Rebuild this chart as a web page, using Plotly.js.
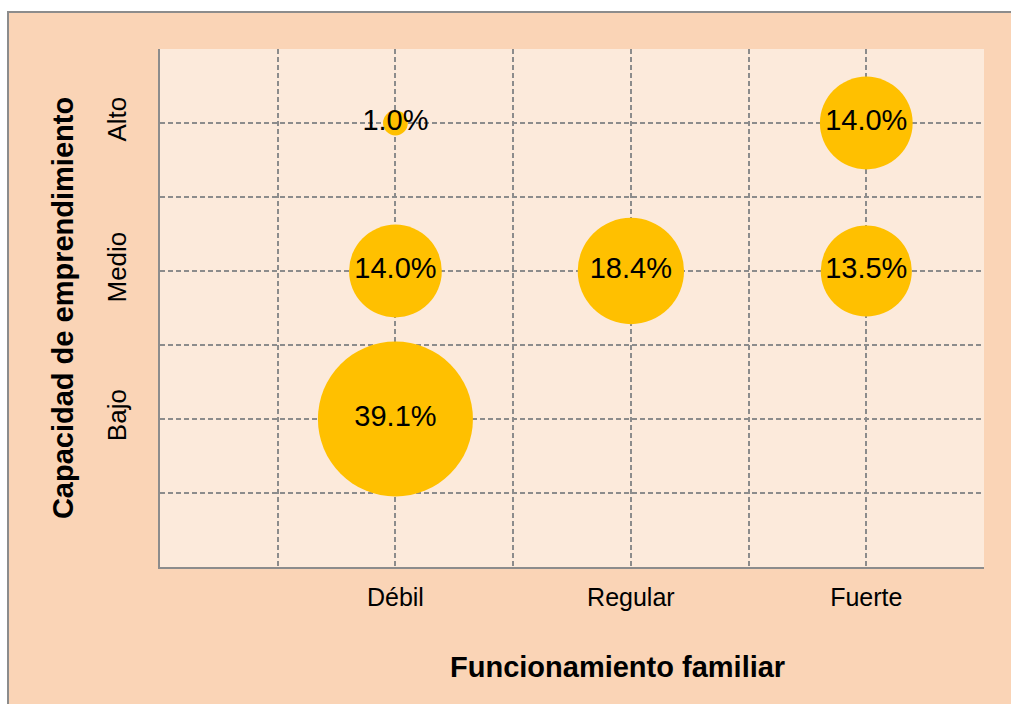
<!DOCTYPE html>
<html>
<head>
<meta charset="utf-8">
<script src="https://cdn.plot.ly/plotly-3.0.1.min.js"></script>
<style>
  html, body { margin: 0; padding: 0; background: #ffffff; width: 1011px; height: 704px; overflow: hidden; }
  #wrap { position: absolute; left: 7px; top: 11px; width: 1004px; height: 693px; box-sizing: border-box;
          border-left: 2px solid #8c8c8c; border-top: 2px solid #8c8c8c; background: #FAD4B6; }
  #chart { width: 1002px; height: 691px; }
</style>
</head>
<body>
<div id="wrap"><div id="chart"></div></div>
<script>
// Categories
const xCategories = ['Débil', 'Regular', 'Fuerte'];
const yCategories = ['Bajo', 'Medio', 'Alto'];

// Series (bubbles): x category, y category, percentage
const pointX = ['Débil', 'Fuerte', 'Débil', 'Regular', 'Fuerte', 'Débil'];
const pointY = ['Alto', 'Alto', 'Medio', 'Medio', 'Medio', 'Bajo'];
const pointValues = [1.0, 14.0, 14.0, 18.4, 13.5, 39.1];

const xTitle = 'Funcionamiento familiar';
const yTitle = 'Capacidad de emprendimiento';

const xPos = pointX.map(c => xCategories.indexOf(c) + 1);
const yPos = pointY.map(c => yCategories.indexOf(c) + 1);
const labels = pointValues.map(v => v.toFixed(1) + '%');

const gridColor = '#8c8c8c';
const gridDash = '5px,3px';
const font = 'Liberation Sans, Arial, sans-serif';

const trace = {
  type: 'scatter',
  mode: 'markers+text',
  x: xPos,
  y: yPos,
  text: labels,
  textposition: 'middle center',
  textfont: { family: font, size: 29, color: '#000000' },
  marker: {
    size: pointValues,
    sizemode: 'area',
    sizeref: 0.003254,
    color: '#FFC000',
    opacity: 1,
    line: { width: 0 }
  },
  hoverinfo: 'skip',
  cliponaxis: false,
  showlegend: false
};

const layout = {
  width: 1002,
  height: 691,
  margin: { l: 151, r: 27, t: 36, b: 137 },
  paper_bgcolor: '#FAD4B6',
  plot_bgcolor: '#FCEADB',
  showlegend: false,
  xaxis: {
    range: [0, 3.5],
    tickmode: 'array',
    tickvals: xCategories.map((c, i) => i + 1),
    ticktext: xCategories,
    ticks: '',
    ticklabelstandoff: 7,
    tickfont: { family: font, size: 25, color: '#000000' },
    showgrid: true,
    gridcolor: gridColor,
    gridwidth: 2,
    griddash: gridDash,
    minor: { tickmode: 'linear', tick0: 0, dtick: 0.5, showgrid: true, gridcolor: gridColor, gridwidth: 2, griddash: gridDash, ticks: '' },
    zeroline: false,
    showline: true,
    linecolor: gridColor,
    linewidth: 2,
    fixedrange: true
  },
  yaxis: {
    range: [0, 3.5],
    tickmode: 'array',
    tickvals: yCategories.map((c, i) => i + 1),
    ticktext: yCategories,
    tickangle: -90,
    ticks: '',
    ticklabelstandoff: 22,
    tickfont: { family: font, size: 26, color: '#000000' },
    showgrid: true,
    gridcolor: gridColor,
    gridwidth: 2,
    griddash: gridDash,
    minor: { tickmode: 'linear', tick0: 0, dtick: 0.5, showgrid: true, gridcolor: gridColor, gridwidth: 2, griddash: gridDash, ticks: '' },
    zeroline: false,
    showline: true,
    linecolor: gridColor,
    linewidth: 2,
    fixedrange: true,
    title: { text: '<b>' + yTitle + '</b>', font: { family: font, size: 29, color: '#000000' }, standoff: 19 }
  },
  annotations: [{
    text: '<b>' + xTitle + '</b>',
    xref: 'paper', yref: 'paper',
    x: 0.555, y: 0,
    xanchor: 'center', yanchor: 'middle',
    yshift: -100,
    showarrow: false,
    font: { family: font, size: 29, color: '#000000' }
  }]
};

Plotly.newPlot('chart', [trace], layout, { displayModeBar: false, staticPlot: true });
</script>
</body>
</html>
